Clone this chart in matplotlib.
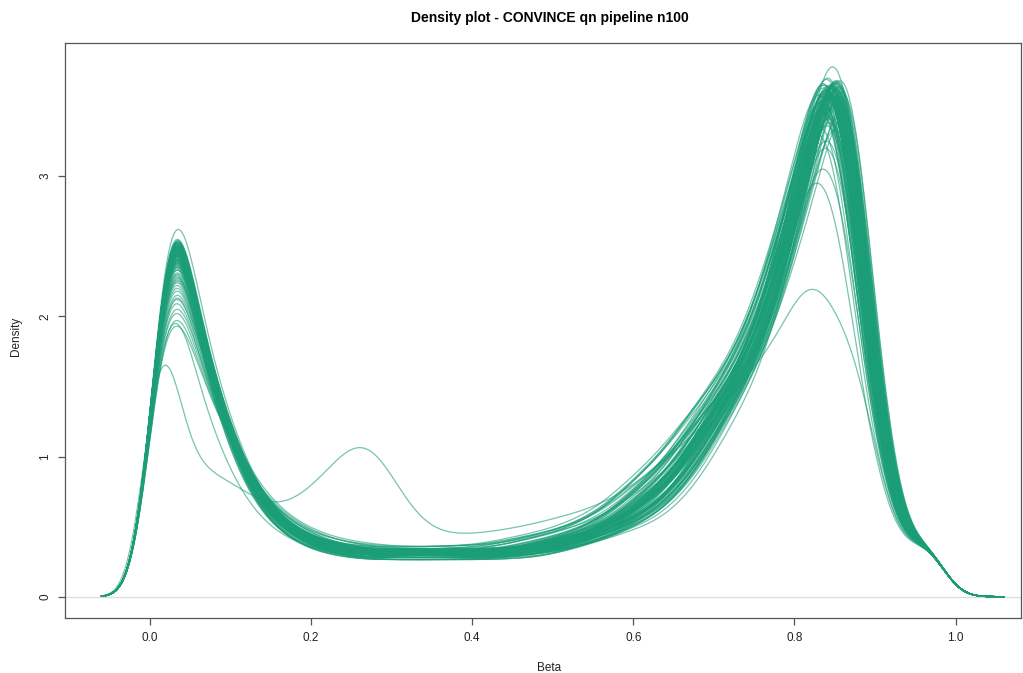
import numpy as np
import matplotlib

matplotlib.use("Agg")
import matplotlib.pyplot as plt

plt.rcParams["font.family"] = ["Liberation Sans", "DejaVu Sans"]

LINE_COLOR = "#1B9E77"
BANDWIDTH = 0.02

# Binned beta values (0.00 .. 1.00 in steps of 0.01) of a typical sample, as density
TYPICAL_DENSITY = [
    1.2, 2.2, 2.9, 3.0, 2.6, 2.1, 1.85, 1.62, 1.42, 1.25,
    1.08, 0.94, 0.82, 0.72, 0.64, 0.57, 0.52, 0.48, 0.44, 0.41,
    0.39, 0.37, 0.355, 0.345, 0.335, 0.325, 0.32, 0.315, 0.31, 0.31,
    0.31, 0.305, 0.305, 0.305, 0.305, 0.305, 0.305, 0.305, 0.31, 0.31,
    0.31, 0.31, 0.315, 0.315, 0.32, 0.32, 0.325, 0.33, 0.34, 0.355,
    0.37, 0.385, 0.40, 0.415, 0.43, 0.45, 0.47, 0.50, 0.53, 0.56,
    0.60, 0.64, 0.68, 0.73, 0.78, 0.84, 0.91, 0.99, 1.08, 1.17,
    1.27, 1.36, 1.45, 1.55, 1.65, 1.76, 1.9, 2.08, 2.28, 2.5,
    2.72, 2.95, 3.17, 3.5, 3.75, 3.95, 3.75, 3.2, 2.5, 1.9,
    1.4, 1.0, 0.72, 0.5, 0.3, 0.32, 0.48, 0.45, 0.25, 0.08,
    0.0,
]
MID_REFERENCE = 0.31

# Per-sample summaries: hypo peak height and tail width, plateau level,
# hyper peak height, hyper peak position and spread of its left flank
LEFT_PEAK = [
    2.45, 2.38, 2.51, 2.29, 2.47, 2.42, 2.53, 2.18, 2.40, 2.49,
    2.35, 2.44, 2.52, 2.26, 2.48, 2.39, 2.05, 2.46, 2.50, 2.33,
    2.43, 2.54, 2.41, 2.22, 2.47, 2.37, 2.49, 2.12, 2.45, 2.52,
    2.30, 2.44, 2.40, 2.50, 1.93, 2.46, 2.36, 2.53, 2.43, 2.27,
    2.48, 2.41, 2.51, 2.34, 2.45, 2.15, 2.49, 2.39, 2.55, 2.44,
    2.31, 2.47, 2.42, 2.02, 2.50, 2.38, 2.46, 2.52, 2.24, 2.43,
    2.48, 2.36, 2.62, 2.45, 2.40, 2.51, 2.09, 2.47, 2.33, 2.49,
    2.44, 2.53, 2.20, 2.41, 2.46, 2.37, 2.50, 1.97, 2.45, 2.42,
    2.52, 2.28, 2.48, 2.39, 2.44, 2.51, 2.35, 2.46, 2.13, 2.49,
    2.43, 2.54, 2.40, 2.25, 2.47, 2.38, 1.95, 2.50, 2.44,
]
LEFT_TAIL_WIDTH = [
    1.02, 0.97, 1.05, 0.99, 1.08, 0.95, 1.01, 1.12, 0.98, 1.04,
    1.00, 0.96, 1.06, 1.10, 0.99, 1.03, 1.22, 0.97, 1.01, 1.05,
    0.98, 1.04, 0.95, 1.09, 1.02, 1.00, 0.97, 1.15, 1.03, 0.99,
    1.06, 1.01, 0.96, 1.03, 1.28, 0.98, 1.05, 1.00, 0.97, 1.11,
    1.02, 0.99, 1.04, 0.96, 1.07, 1.18, 1.00, 1.03, 0.95, 1.01,
    1.08, 0.97, 1.02, 1.20, 0.99, 1.05, 1.01, 0.96, 1.09, 1.03,
    0.98, 1.04, 1.06, 1.00, 0.97, 1.02, 1.14, 0.99, 1.07, 1.01,
    1.03, 0.96, 1.10, 1.00, 1.05, 0.98, 1.02, 1.25, 0.99, 1.04,
    0.97, 1.08, 1.01, 1.03, 0.96, 1.00, 1.06, 0.98, 1.16, 1.02,
    1.04, 0.97, 1.01, 1.09, 0.99, 1.05, 0.98, 0.98, 1.02,
]
MID_LEVEL = [
    0.31, 0.295, 0.325, 0.28, 0.31, 0.34, 0.295, 0.325, 0.265, 0.31,
    0.295, 0.325, 0.31, 0.28, 0.34, 0.295, 0.31, 0.265, 0.325, 0.295,
    0.355, 0.31, 0.28, 0.325, 0.295, 0.31, 0.34, 0.28, 0.31, 0.325,
    0.295, 0.34, 0.31, 0.265, 0.325, 0.295, 0.31, 0.28, 0.325, 0.31,
    0.295, 0.31, 0.34, 0.28, 0.31, 0.355, 0.295, 0.325, 0.265, 0.31,
    0.325, 0.295, 0.31, 0.34, 0.28, 0.31, 0.295, 0.325, 0.31, 0.265,
    0.31, 0.325, 0.295, 0.28, 0.34, 0.31, 0.295, 0.325, 0.36, 0.295,
    0.31, 0.28, 0.325, 0.295, 0.31, 0.34, 0.265, 0.31, 0.295, 0.325,
    0.295, 0.31, 0.28, 0.34, 0.31, 0.295, 0.325, 0.265, 0.31, 0.295,
    0.325, 0.31, 0.295, 0.28, 0.355, 0.31, 0.295, 0.325, 0.31,
]
RIGHT_PEAK = [
    3.58, 3.62, 3.49, 3.66, 3.55, 3.41, 3.63, 3.52, 3.68, 3.57,
    3.45, 3.60, 3.64, 3.36, 3.59, 3.54, 3.67, 3.48, 3.61, 3.56,
    3.30, 3.63, 3.58, 3.51, 3.65, 3.43, 3.60, 3.69, 3.55, 3.47,
    3.62, 2.95, 3.57, 3.64, 3.50, 3.59, 3.38, 3.66, 3.53, 3.61,
    3.56, 3.68, 3.44, 3.60, 3.63, 3.25, 3.58, 3.52, 3.65, 3.57,
    3.49, 3.62, 3.70, 3.55, 3.40, 3.61, 3.59, 3.05, 3.64, 3.54,
    3.67, 3.51, 3.58, 3.78, 3.46, 3.63, 3.56, 3.60, 3.33, 3.65,
    3.59, 3.53, 3.62, 3.48, 3.66, 3.57, 3.42, 3.61, 3.64, 3.55,
    3.50, 3.68, 3.58, 3.35, 3.62, 3.56, 3.65, 3.60, 3.47, 3.63,
    3.57, 3.54, 3.66, 3.59, 3.20, 3.61, 3.52, 3.64, 3.58,
]
RIGHT_MODE = [
    0.851, 0.846, 0.857, 0.841, 0.860, 0.849, 0.854, 0.837, 0.858, 0.850,
    0.844, 0.853, 0.863, 0.847, 0.855, 0.840, 0.859, 0.850, 0.845, 0.862,
    0.834, 0.854, 0.849, 0.858, 0.842, 0.851, 0.866, 0.846, 0.857, 0.838,
    0.853, 0.832, 0.860, 0.847, 0.855, 0.844, 0.850, 0.859, 0.841, 0.854,
    0.849, 0.864, 0.845, 0.857, 0.851, 0.846, 0.836, 0.858, 0.850, 0.842,
    0.860, 0.853, 0.847, 0.855, 0.867, 0.844, 0.859, 0.840, 0.851, 0.849,
    0.857, 0.845, 0.854, 0.854, 0.838, 0.862, 0.850, 0.846, 0.858, 0.842,
    0.853, 0.847, 0.859, 0.841, 0.855, 0.850, 0.863, 0.845, 0.857, 0.849,
    0.844, 0.860, 0.851, 0.837, 0.858, 0.846, 0.854, 0.849, 0.866, 0.842,
    0.853, 0.847, 0.857, 0.850, 0.845, 0.859, 0.841, 0.855, 0.851,
]
RIGHT_SPREAD = [
    1.02, 0.97, 1.08, 0.94, 1.05, 1.00, 0.92, 1.11, 0.98, 1.04,
    1.06, 0.95, 1.01, 1.14, 0.99, 1.03, 0.93, 1.07, 1.00, 0.96,
    1.13, 1.02, 0.97, 1.05, 1.09, 0.94, 0.99, 1.03, 0.91, 1.12,
    1.00, 0.86, 1.04, 0.96, 1.07, 1.01, 1.14, 0.95, 1.06, 0.98,
    1.03, 0.97, 1.10, 1.00, 0.94, 1.13, 1.02, 1.05, 0.96, 1.08,
    0.99, 1.04, 0.93, 1.01, 1.12, 0.97, 1.06, 0.84, 1.00, 1.03,
    0.95, 1.09, 1.02, 1.00, 1.12, 0.98, 1.05, 1.01, 1.12, 0.96,
    1.04, 1.07, 0.99, 1.11, 0.97, 1.02, 1.13, 1.00, 0.94, 1.06,
    1.08, 0.96, 1.03, 1.12, 0.98, 1.05, 1.00, 1.02, 1.10, 0.97,
    1.01, 1.06, 0.95, 1.04, 1.14, 0.99, 1.08, 0.97, 1.03,
]

# One sample with an extra intermediate mode and a flattened hyper peak
ODD_SAMPLE_DENSITY = [
    1.9, 2.7, 2.3, 1.45, 1.1, 0.98, 0.93, 0.9, 0.88, 0.85,
    0.82, 0.78, 0.74, 0.7, 0.67, 0.65, 0.65, 0.66, 0.69, 0.73,
    0.78, 0.84, 0.9, 0.97, 1.04, 1.1, 1.13, 1.12, 1.07, 0.98,
    0.87, 0.76, 0.66, 0.58, 0.52, 0.48, 0.46, 0.45, 0.445, 0.445,
    0.45, 0.455, 0.46, 0.47, 0.48, 0.49, 0.5, 0.51, 0.525, 0.54,
    0.555, 0.57, 0.585, 0.6, 0.62, 0.64, 0.66, 0.69, 0.72, 0.76,
    0.8, 0.84, 0.88, 0.93, 0.98, 1.03, 1.08, 1.13, 1.19, 1.24,
    1.3, 1.36, 1.42, 1.49, 1.56, 1.63, 1.7, 1.78, 1.86, 1.98,
    2.12, 2.25, 2.35, 2.3, 2.15, 2.05, 1.95, 1.85, 1.75, 1.45,
    1.0, 0.7, 0.52, 0.4, 0.3, 0.32, 0.48, 0.45, 0.25, 0.08,
    0.0,
]
ODD_SAMPLE_POSITION = 60

beta = np.round(np.arange(len(TYPICAL_DENSITY)) * 0.01, 2)
x_eval = np.linspace(-0.06, 1.06, 512)
left_zone = x_eval < 0.2
right_zone = x_eval > 0.6


def kernel_density(positions, masses):
    z = (x_eval[:, None] - positions[None, :]) / BANDWIDTH
    return np.exp(-0.5 * z**2) @ masses / (BANDWIDTH * np.sqrt(2 * np.pi))


typical = np.array(TYPICAL_DENSITY)
plateau_shape = np.clip((0.80 - beta) / 0.20, 0, 1)
excess = np.clip(typical - MID_REFERENCE * plateau_shape, 0, None)
hypo = np.where(beta < 0.3, excess, 0.0)
hyper = np.where(beta >= 0.3, excess, 0.0)


def sample_parts(tail_width, mid_level, right_mode, right_spread):
    """Split one sample's density into a fixed part and the two peak parts."""
    # hypomethylated peak: shared rising flank, tail stretched per sample
    hypo_pos = np.where(beta > 0.03, 0.03 + (beta - 0.03) * tail_width, beta)
    hypo_jac = np.where(beta > 0.03, tail_width, 1.0)
    hypo_mass = hypo * hypo_jac * 0.01
    flank = beta <= 0.01

    # hypermethylated peak: moved to its mode, left flank stretched,
    # upper tail kept in place
    shift = right_mode - 0.85
    fade = np.clip((0.97 - beta) / 0.12, 0, 1)
    hyper_pos = np.where(
        beta <= 0.85, right_mode + (beta - 0.85) * right_spread, beta + shift * fade
    )
    hyper_jac = np.where(
        beta <= 0.85, right_spread, np.where(beta < 0.97, 1 - shift / 0.12, 1.0)
    )
    tail_fade = np.clip((0.96 - beta) / 0.06, 0, 1)
    hyper_mass = hyper * hyper_jac * 0.01

    fixed = (
        kernel_density(beta, mid_level * plateau_shape * 0.01)
        + kernel_density(hypo_pos, np.where(flank, hypo_mass, 0.0))
        + kernel_density(hyper_pos, hyper_mass * (1 - tail_fade))
    )
    left_part = kernel_density(hypo_pos, np.where(flank, 0.0, hypo_mass))
    right_part = kernel_density(hyper_pos, hyper_mass * tail_fade)
    return fixed, left_part, right_part


def sample_curve(left_peak, tail_width, mid_level, right_peak, right_mode, right_spread):
    fixed, left_part, right_part = sample_parts(
        tail_width, mid_level, right_mode, right_spread
    )
    a, b = 1.0, 1.0
    # scale both peaks so their maxima land on the stated heights
    for _ in range(5):
        curve = fixed + a * left_part + b * right_part
        k = np.argmax(np.where(left_zone, curve, -1))
        a = (left_peak - fixed[k] - b * right_part[k]) / left_part[k]
        curve = fixed + a * left_part + b * right_part
        k = np.argmax(np.where(right_zone, curve, -1))
        b = (right_peak - fixed[k] - a * left_part[k]) / right_part[k]
    return fixed + a * left_part + b * right_part


curves = [
    sample_curve(*params)
    for params in zip(
        LEFT_PEAK, LEFT_TAIL_WIDTH, MID_LEVEL, RIGHT_PEAK, RIGHT_MODE, RIGHT_SPREAD
    )
]
odd_curve = kernel_density(beta, np.array(ODD_SAMPLE_DENSITY) * 0.01)
curves.insert(ODD_SAMPLE_POSITION, odd_curve)

fig = plt.figure(figsize=(10.23, 6.73), dpi=100)
ax = fig.add_axes([65 / 1023, 1 - 618 / 673, 956 / 1023, 575 / 673])

ax.axhline(0, color="#dddddd", linewidth=1.0, zorder=1)
for curve in curves:
    ax.plot(x_eval, curve, color=LINE_COLOR, alpha=0.6, linewidth=0.9, zorder=2)

ax.set_xlim(-0.1055, 1.0813)
ax.set_ylim(-0.152, 3.95)
ax.set_xticks([0.0, 0.2, 0.4, 0.6, 0.8, 1.0])
ax.set_xticklabels(["0.0", "0.2", "0.4", "0.6", "0.8", "1.0"])
ax.set_yticks([0, 1, 2, 3])
ax.set_yticklabels(["0", "1", "2", "3"], rotation=90, va="center")

for spine in ax.spines.values():
    spine.set_color("#555555")
    spine.set_linewidth(0.9)
ax.tick_params(
    direction="out", length=5, width=0.9, color="#555555",
    labelsize=8.5, labelcolor="#222222", pad=5,
)

ax.set_xlabel("Beta", fontsize=8.5, color="#222222", labelpad=12)
ax.xaxis.set_label_coords(0.5063, -0.076)
ax.set_ylabel("Density", fontsize=8.5, color="#222222", labelpad=12)
ax.yaxis.set_label_coords(-0.045, 0.4904)
ax.set_title(
    "Density plot - CONVINCE qn pipeline n100",
    fontsize=10, fontweight="bold", pad=15, x=0.5068,
)

fig.savefig("out.png", dpi=100)
